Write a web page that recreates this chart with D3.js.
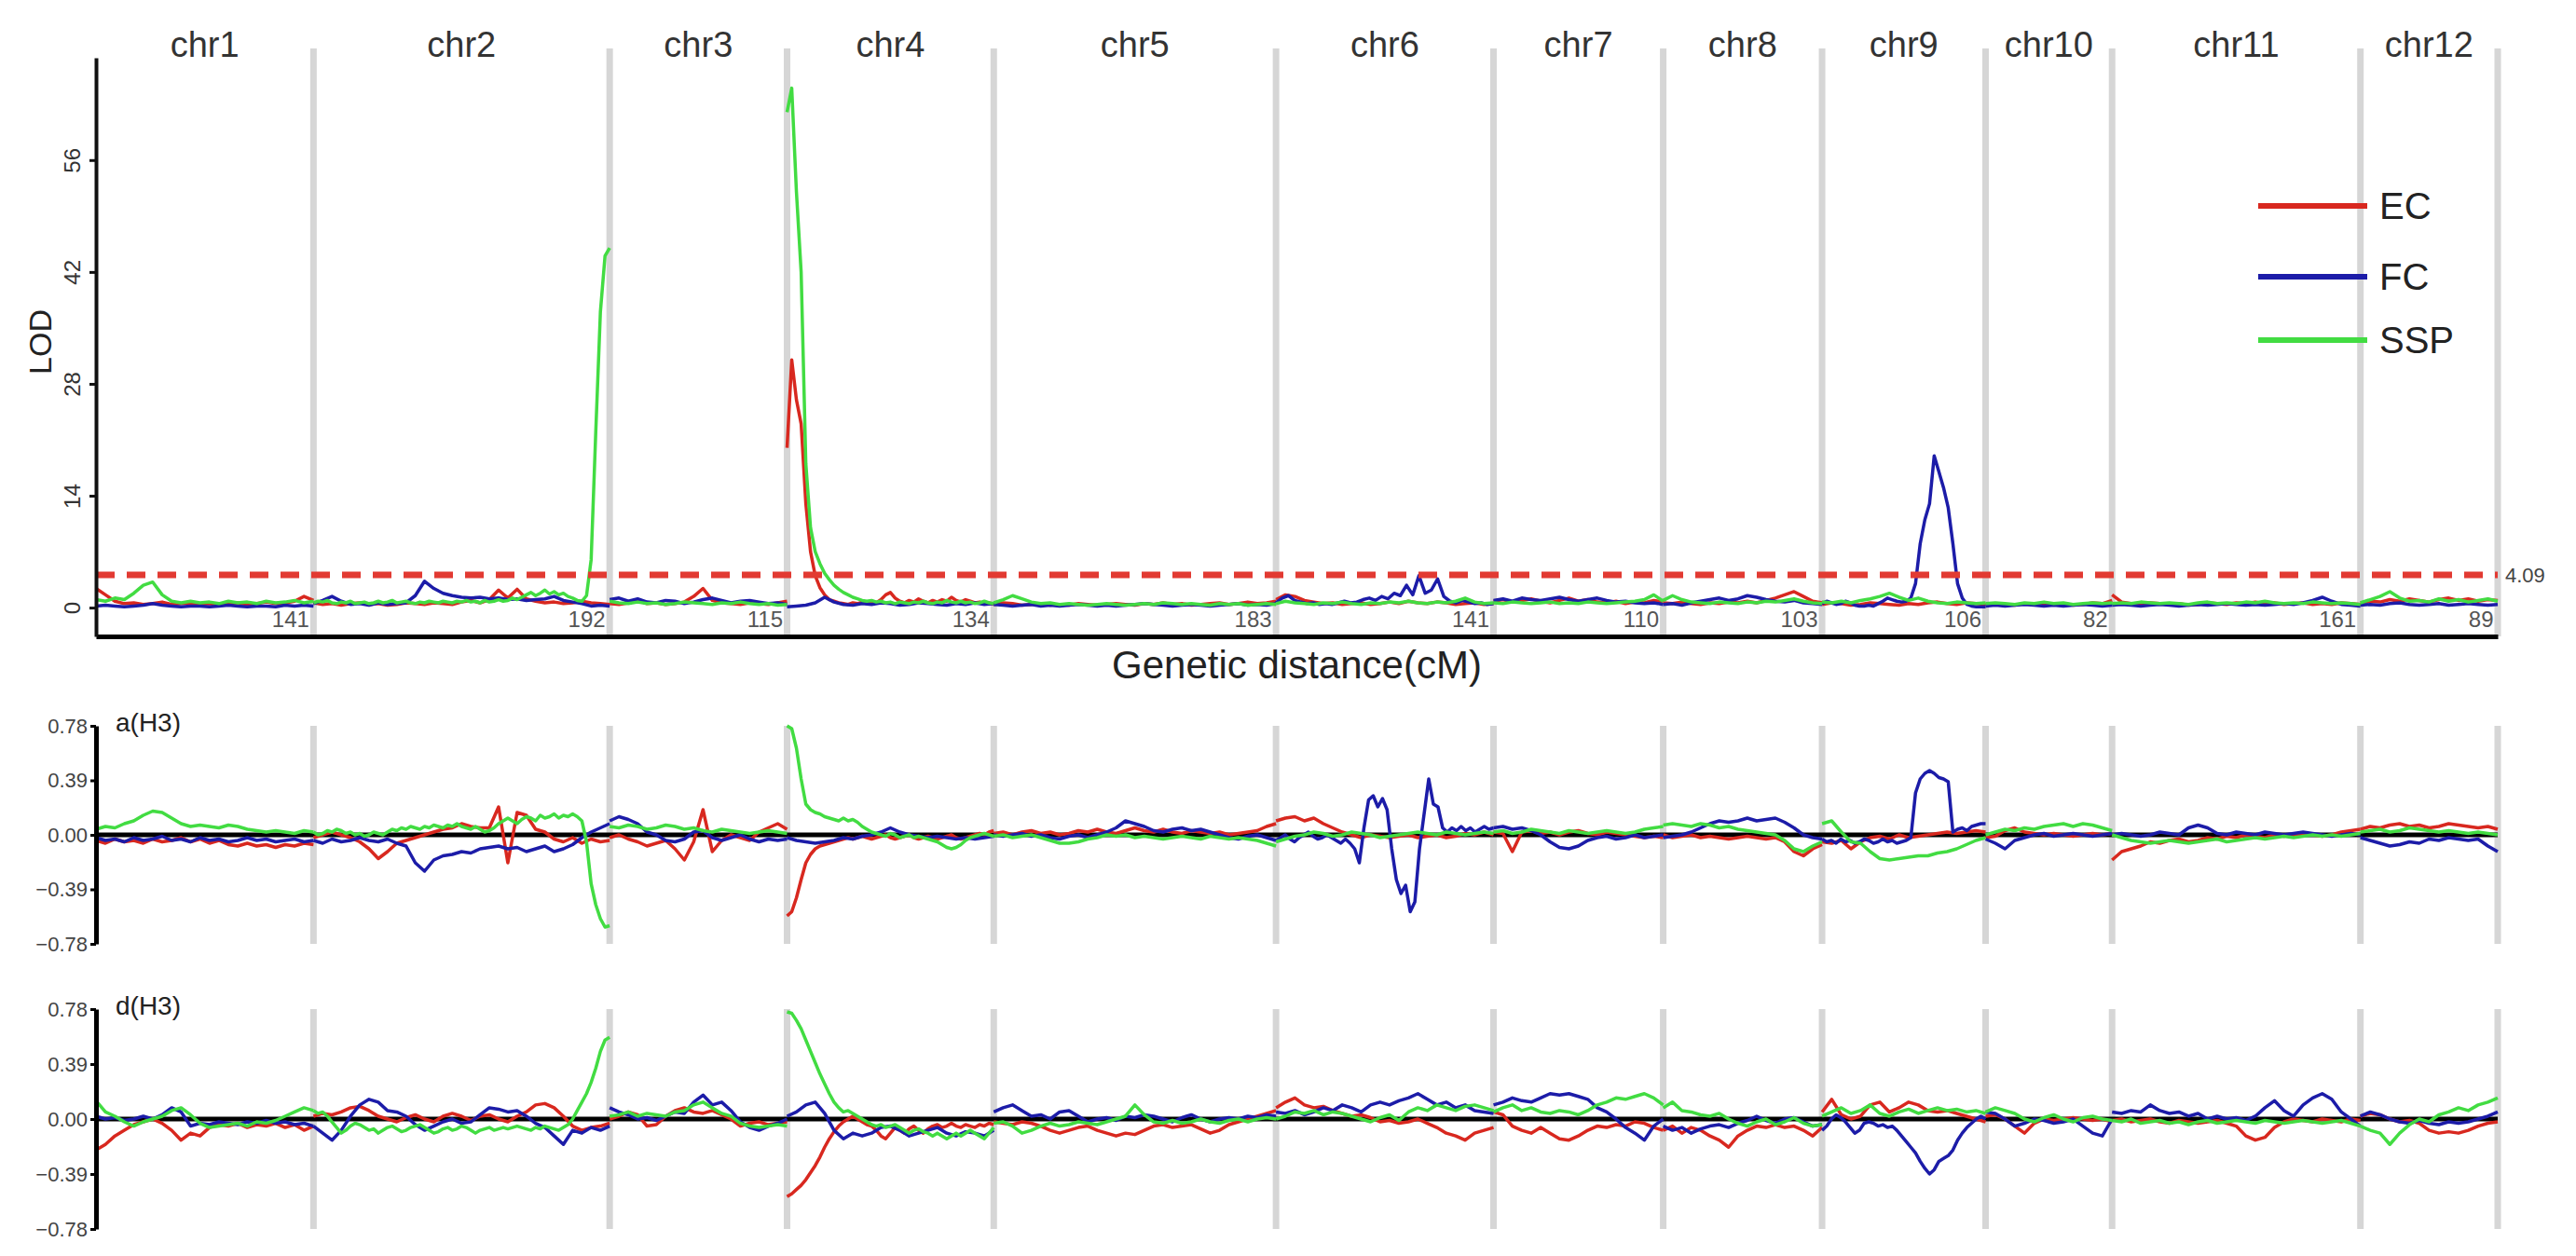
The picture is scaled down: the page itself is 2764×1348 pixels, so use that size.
<!DOCTYPE html>
<html>
<head>
<meta charset="utf-8">
<script src="https://cdn.jsdelivr.net/npm/d3@7"></script>
<style>
  body { margin: 0; background: #fff; }
  svg { display: block; font-family: "Liberation Sans", Arial, sans-serif; }
</style>
</head>
<body>
<div id="chart"></div>
<script>
// chromosome names and genetic lengths (cM)
const chromosomes = ["chr1", "chr2", "chr3", "chr4", "chr5", "chr6", "chr7", "chr8", "chr9", "chr10", "chr11", "chr12"];
const chrLengths = [141, 192, 115, 134, 183, 141, 110, 103, 106, 82, 161, 89];

const seriesNames = ["EC", "FC", "SSP"];
const seriesColors = ["#d8281f", "#1c1ca8", "#42dc42"];

const lodTicks = [0, 14, 28, 42, 56];
const effectTicks = [-0.78, -0.39, 0, 0.39, 0.78];
const lodThreshold = 4.09;

// values are evenly spaced along each chromosome (first value at 0 cM, last at its end)
const lodEC = [
  [2.4,1.6,0.8,0.5,0.6,0.4,0.5,0.7,0.4,0.5,0.6,0.4,0.5,0.3,0.5,0.6,0.4,0.5,0.7,0.5,0.6,0.8,1.4,0.9],
  [0.6,0.4,0.5,0.3,0.5,0.6,0.4,0.5,0.3,0.4,0.6,0.5,0.4,0.6,0.5,0.4,0.7,0.9,0.6,1.0,2.2,1.2,2.3,1.1,0.8,0.6,0.7,0.5,0.6,0.8,0.6,0.5,0.4],
  [0.5,0.4,0.6,0.9,0.5,0.6,0.4,0.5,0.7,1.4,2.4,0.9,0.6,0.5,0.4,0.6,0.5,0.4,0.6,0.8],
  [20,31,26,23,13,7,4,2.5,1.6,1.0,0.8,0.6,0.5,0.4,0.6,0.5,0.7,0.5,0.8,0.6,1.0,1.6,1.9,1.2,0.8,0.6,0.9,0.7,1.1,0.8,0.6,0.9,0.7,1.0,0.8,1.3,0.9,0.7,1.0,0.8,0.6,0.7,0.5,0.6,0.4],
  [0.4,0.6,0.5,0.3,0.4,0.5,0.3,0.4,0.3,0.5,0.4,0.3,0.4,0.5,0.4,0.3,0.5,0.4,0.6,0.4,0.5,0.3,0.4,0.5,0.6,0.4,0.5,0.7,0.5,0.6,0.8],
  [1.0,1.6,1.4,0.9,0.7,0.5,0.6,0.4,0.5,0.6,0.4,0.5,0.7,0.5,0.8,0.6,0.5,0.7,0.6,0.4,0.5,0.6,0.4,0.5],
  [0.8,1.0,0.7,0.9,1.1,0.8,0.6,0.9,1.2,0.8,1.0,0.7,0.6,0.8,0.5,0.7,0.6,0.9,0.7],
  [0.6,0.5,0.7,0.5,0.4,0.6,0.5,0.7,0.6,0.8,0.6,0.9,1.2,1.6,2.0,1.4,0.8,0.6],
  [0.4,0.6,0.5,0.3,0.4,0.6,0.5,0.4,0.3,0.5,0.4,0.6,0.7,0.5,0.4,0.6,0.5,0.4],
  [0.3,0.5,0.4,0.3,0.5,0.4,0.3,0.4,0.5,0.3,0.4,0.6,0.5,0.9],
  [1.6,0.7,0.5,0.4,0.6,0.5,0.4,0.5,0.3,0.4,0.6,0.5,0.4,0.6,0.5,0.7,0.5,0.6,0.4,0.5,0.6,0.4,0.5,0.4,0.6,0.5,0.4],
  [0.6,0.8,0.7,1.0,0.8,1.1,0.9,0.7,1.0,1.2,0.9,1.1,0.8,1.0,0.9]
];
const lodFC = [
  [0.2,0.3,0.2,0.1,0.2,0.3,0.5,0.3,0.2,0.1,0.2,0.2,0.1,0.2,0.3,0.2,0.1,0.2,0.2,0.1,0.3,0.2,0.3,0.2],
  [0.5,0.9,1.4,0.8,0.4,0.5,0.3,0.6,0.4,0.5,0.6,1.5,3.3,2.4,1.8,1.5,1.3,1.2,1.3,1.1,1.2,1.0,1.1,0.9,1.0,1.1,1.4,0.9,0.7,0.5,0.2,0.3,0.2],
  [1.0,1.2,0.8,1.1,0.7,0.6,0.9,0.8,0.5,0.7,1.0,1.2,0.9,0.6,0.8,0.9,0.7,0.5,0.6,0.4],
  [0.1,0.2,0.3,0.6,1.3,0.7,0.4,0.3,0.5,0.4,0.6,0.5,0.3,0.4,0.6,0.5,0.4,0.3,0.5,0.4,0.6,0.4,0.5],
  [0.4,0.3,0.2,0.3,0.4,0.2,0.3,0.2,0.3,0.4,0.3,0.2,0.3,0.2,0.3,0.4,0.5,0.4,0.3,0.2,0.3,0.4,0.3,0.2,0.3,0.4,0.5,0.3,0.4,0.3,0.5],
  [0.6,1.2,1.5,0.9,0.7,0.5,0.6,0.4,0.5,0.4,0.6,0.8,0.6,0.7,1.0,1.2,0.9,1.4,1.1,1.8,1.5,2.8,1.6,4.0,1.8,2.2,3.6,1.4,0.8,0.6,0.9,0.7,0.5,0.6,0.4,0.5],
  [0.9,1.1,0.8,1.2,1.0,0.9,1.1,1.3,1.0,0.8,1.0,1.2,0.9,0.7,0.8,0.6,0.5,0.6,0.4],
  [0.4,0.5,0.3,0.6,0.8,1.0,1.2,0.9,1.1,1.5,1.3,1.0,0.8,0.7,0.9,0.6,0.5,0.4],
  [0.5,0.8,0.6,0.4,0.5,0.8,0.6,0.3,0.2,0.2,0.3,0.2,0.5,0.8,1.2,1.0,0.8,0.7,0.8,1.2,3.0,8.0,11.0,13.0,19.0,17.0,15.0,12.5,8.0,3.0,1.2,0.4,0.2,0.1,0.1,0.1],
  [0.2,0.3,0.2,0.3,0.4,0.3,0.2,0.3,0.2,0.3,0.4,0.3,0.2,0.3],
  [0.3,0.4,0.3,0.2,0.3,0.4,0.3,0.2,0.3,0.4,0.3,0.4,0.5,0.4,0.3,0.4,0.3,0.4,0.5,0.4,0.6,0.9,1.3,0.8,0.4,0.3,0.2],
  [0.3,0.4,0.3,0.5,0.6,0.4,0.3,0.4,0.5,0.3,0.4,0.5,0.4,0.3,0.4]
];
const lodSSP = [
  [1.0,0.8,1.2,1.0,1.8,2.8,3.2,1.6,0.8,0.6,0.8,0.6,0.7,0.5,0.8,0.6,0.7,0.5,0.8,0.6,0.7,0.9,0.6,0.8],
  [0.6,0.8,0.7,0.9,0.6,0.5,0.7,0.6,0.8,0.5,0.6,0.7,0.5,0.6,0.8,0.6,0.7,0.9,0.6,0.7,0.8,0.6,0.5,0.7,0.6,0.8,0.7,0.6,0.8,0.7,0.6,0.8,0.7,0.9,0.7,0.8,0.6,0.9,0.7,0.8,1.0,0.8,0.9,1.2,1.0,1.3,1.6,1.9,1.5,1.8,2.2,1.7,2.0,1.6,1.8,1.4,1.2,0.9,0.8,1.5,6,22,37,44,45],
  [0.8,0.6,0.5,0.7,0.5,0.6,0.4,0.5,0.7,0.6,0.5,0.4,0.6,0.5,0.7,0.5,0.4,0.5,0.3,0.4],
  [62,65,52,42,18,10,7,5.5,4.3,3.5,2.8,2.3,1.9,1.6,1.3,1.1,0.9,0.8,0.9,0.7,0.8,0.6,0.7,0.5,0.7,0.6,0.5,0.7,0.6,0.8,0.6,0.5,0.7,0.6,0.9,0.7,0.6,0.8,0.6,0.7,0.5,0.6,0.8,0.6,0.5],
  [0.6,1.0,1.5,1.1,0.7,0.5,0.6,0.4,0.5,0.4,0.3,0.4,0.5,0.4,0.3,0.4,0.5,0.4,0.6,0.5,0.4,0.5,0.4,0.3,0.5,0.4,0.5,0.3,0.4,0.5,0.4],
  [0.5,0.8,0.6,0.5,0.4,0.6,0.5,0.7,0.5,0.4,0.6,0.5,0.7,0.6,0.8,0.6,0.5,0.7,0.6,0.8,1.2,0.7,0.5,0.6],
  [0.6,0.5,0.7,0.6,0.5,0.6,0.7,0.5,0.6,0.5,0.7,0.6,0.5,0.6,0.7,0.8,1.0,1.6,0.8],
  [0.9,1.5,1.0,0.7,0.6,0.5,0.7,0.6,0.5,0.7,0.6,0.8,0.7,0.9,1.1,0.8,0.6,0.5],
  [0.7,0.6,0.8,0.6,0.9,1.1,1.4,1.8,1.3,0.9,1.2,0.8,0.6,0.5,0.7,0.6,0.5,0.6],
  [0.5,0.6,0.5,0.4,0.6,0.5,0.7,0.5,0.6,0.4,0.5,0.6,0.5,0.6],
  [0.5,0.6,0.5,0.7,0.6,0.5,0.6,0.5,0.4,0.6,0.7,0.5,0.6,0.5,0.7,0.6,0.8,0.6,0.5,0.6,0.5,0.7,0.6,0.5,0.6,0.5,0.4],
  [0.6,1.0,1.4,2.0,1.2,0.8,0.9,0.7,1.1,0.8,1.0,0.7,0.9,1.1,0.8]
];

// additive effect a(H3)
const aEC = [
  [-0.04,-0.06,-0.03,-0.05,-0.04,-0.06,-0.03,-0.05,-0.04,-0.02,-0.05,-0.03,-0.06,-0.04,-0.07,-0.08,-0.06,-0.08,-0.07,-0.09,-0.07,-0.08,-0.06,-0.07],
  [-0.02,0.0,0.02,0.0,-0.02,-0.05,-0.1,-0.17,-0.12,-0.06,-0.04,-0.02,0.0,0.02,0.04,0.05,0.08,0.06,0.05,0.05,0.2,-0.2,0.16,0.14,0.04,0.02,-0.03,-0.05,-0.02,-0.06,-0.03,-0.05,-0.04],
  [-0.02,0.0,-0.03,-0.05,-0.08,-0.06,-0.04,-0.1,-0.18,-0.05,0.18,-0.12,-0.04,0.0,-0.02,-0.04,0.02,0.05,0.08,0.04],
  [-0.58,-0.55,-0.45,-0.32,-0.2,-0.14,-0.1,-0.08,-0.07,-0.06,-0.05,-0.04,-0.03,-0.02,-0.03,-0.02,-0.01,-0.02,-0.03,-0.02,-0.01,0.0,-0.02,-0.03,-0.02,-0.01,0.0,-0.02,-0.03,-0.02,-0.01,-0.02,-0.03,-0.02,-0.01,0.0,-0.02,-0.03,-0.02,-0.01,0.0,0.01,0.0,0.02,0.03],
  [0.01,0.02,0.0,0.02,0.03,0.01,0.02,0.0,0.01,0.03,0.02,0.04,0.02,0.01,0.03,0.05,0.03,0.02,0.04,0.02,0.01,0.03,0.02,0.01,0.02,0.0,0.01,0.02,0.03,0.06,0.08],
  [0.1,0.12,0.13,0.1,0.12,0.08,0.05,0.02,0.0,-0.02,0.0,-0.01,-0.02,-0.01,0.0,-0.02,-0.01,0.0,-0.02,-0.01,0.01,0.0,0.02,0.0],
  [0.02,0.01,-0.12,0.02,0.03,0.01,0.02,0.0,0.02,0.03,0.01,0.0,0.02,0.01,0.0,-0.01,-0.02,-0.01,-0.02],
  [0.0,-0.02,-0.01,0.0,-0.02,-0.01,-0.02,-0.03,-0.02,-0.01,-0.02,-0.03,-0.02,-0.05,-0.12,-0.15,-0.1,-0.07],
  [-0.05,-0.06,-0.04,-0.1,-0.05,-0.02,-0.01,-0.03,0.0,-0.02,-0.01,0.0,0.01,0.02,0.01,0.02,0.03,0.02],
  [-0.02,-0.01,0.03,0.05,0.02,0.01,0.0,0.01,0.0,-0.01,0.0,0.01,0.0,0.01],
  [-0.18,-0.12,-0.1,-0.08,-0.05,-0.06,-0.04,-0.03,-0.05,-0.04,-0.02,-0.03,-0.01,-0.02,0.0,-0.01,-0.02,0.0,-0.01,0.0,0.01,0.0,-0.01,0.0,0.02,0.03,0.04],
  [0.04,0.06,0.05,0.07,0.08,0.06,0.07,0.05,0.06,0.08,0.07,0.06,0.05,0.06,0.04]
];
const aFC = [
  [-0.02,-0.04,-0.03,-0.05,-0.02,-0.04,-0.03,-0.01,-0.04,-0.03,-0.05,-0.02,-0.04,-0.03,-0.05,-0.04,-0.02,-0.04,-0.03,-0.05,-0.04,-0.03,-0.05,-0.04],
  [-0.04,-0.06,-0.03,-0.05,-0.04,-0.02,-0.04,-0.05,-0.03,-0.06,-0.08,-0.2,-0.26,-0.18,-0.15,-0.14,-0.12,-0.13,-0.1,-0.09,-0.08,-0.1,-0.09,-0.12,-0.1,-0.08,-0.12,-0.1,-0.07,-0.02,0.02,0.05,0.08],
  [0.1,0.13,0.11,0.08,0.02,0.0,-0.04,-0.05,-0.03,0.02,0.03,-0.02,-0.04,-0.02,0.0,-0.03,-0.05,-0.03,-0.04,-0.03],
  [-0.02,-0.04,-0.05,-0.06,-0.05,-0.04,-0.02,-0.03,-0.01,0.0,0.02,0.05,0.02,0.0,-0.01,-0.02,-0.01,-0.02,-0.03,-0.02,-0.03,-0.02,-0.01],
  [0.0,-0.01,0.0,0.01,-0.01,0.0,-0.02,-0.03,-0.01,0.0,-0.02,0.0,0.02,0.05,0.1,0.08,0.06,0.03,0.02,0.04,0.05,0.03,0.04,0.02,0.0,-0.02,-0.03,-0.01,0.0,-0.02,-0.04],
  [-0.04,-0.02,0.0,-0.03,-0.05,-0.02,0.0,0.02,-0.01,-0.03,-0.02,0.0,-0.02,-0.04,-0.06,-0.03,-0.06,-0.1,-0.2,0.05,0.25,0.28,0.2,0.26,0.18,-0.1,-0.32,-0.42,-0.36,-0.55,-0.48,-0.1,0.15,0.4,0.22,0.2,0.05,0.02,0.05,0.03,0.06,0.03,0.05,0.02,0.04,0.06,0.04,0.05],
  [0.05,0.06,0.04,0.05,0.03,0.0,-0.05,-0.09,-0.1,-0.08,-0.04,-0.02,-0.01,-0.03,-0.02,0.0,-0.02,-0.01,0.0],
  [-0.02,-0.01,0.0,0.02,0.05,0.08,0.1,0.09,0.1,0.12,0.1,0.11,0.12,0.09,0.05,0.0,-0.02,-0.03],
  [-0.03,-0.05,-0.04,-0.06,-0.03,-0.05,-0.04,-0.06,-0.05,-0.03,-0.04,-0.06,-0.05,-0.03,-0.05,-0.04,-0.06,-0.05,-0.04,-0.02,0.3,0.4,0.44,0.46,0.44,0.41,0.4,0.38,0.02,0.04,0.05,0.03,0.06,0.07,0.08,0.08],
  [-0.03,-0.06,-0.1,-0.04,-0.02,0.0,0.01,-0.01,0.0,0.01,0.0,-0.01,0.0,0.01],
  [0.0,0.01,0.0,-0.01,0.0,0.02,0.01,0.0,0.05,0.07,0.05,0.01,0.0,0.02,0.01,0.0,0.02,0.01,0.0,0.01,0.02,0.01,0.0,-0.01,0.0,0.01,0.0],
  [-0.02,-0.04,-0.06,-0.08,-0.07,-0.05,-0.06,-0.03,-0.04,-0.02,-0.03,-0.04,-0.03,-0.08,-0.12]
];
const aSSP = [
  [0.04,0.06,0.05,0.08,0.1,0.14,0.17,0.16,0.12,0.08,0.06,0.07,0.06,0.05,0.07,0.06,0.04,0.03,0.02,0.03,0.02,0.01,0.03,0.02],
  [0.02,0.0,0.01,0.03,0.02,0.04,0.03,0.01,0.02,0.0,0.01,-0.01,0.0,0.02,0.01,0.0,0.02,0.04,0.03,0.05,0.04,0.06,0.05,0.04,0.06,0.05,0.07,0.06,0.05,0.07,0.06,0.08,0.06,0.05,0.04,0.06,0.04,0.02,0.03,0.05,0.08,0.1,0.12,0.1,0.08,0.11,0.13,0.12,0.1,0.14,0.12,0.13,0.15,0.12,0.14,0.13,0.15,0.13,0.1,-0.05,-0.35,-0.5,-0.6,-0.66,-0.65],
  [0.06,0.05,0.07,0.06,0.04,0.05,0.07,0.06,0.04,0.05,0.03,0.02,0.04,0.03,0.02,0.01,0.02,0.03,0.02,0.01],
  [0.78,0.76,0.62,0.4,0.22,0.18,0.16,0.15,0.13,0.12,0.11,0.1,0.12,0.1,0.11,0.09,0.06,0.04,0.02,0.01,0.0,-0.01,0.01,0.0,-0.02,-0.01,0.0,-0.02,-0.01,-0.02,-0.03,-0.04,-0.05,-0.07,-0.09,-0.1,-0.09,-0.07,-0.04,-0.02,-0.01,0.0,0.01,0.0,-0.01],
  [-0.01,0.0,-0.02,-0.01,0.0,-0.02,-0.04,-0.06,-0.06,-0.05,-0.03,-0.02,0.0,-0.01,0.0,-0.02,-0.01,-0.02,-0.03,-0.02,-0.01,-0.02,-0.03,-0.01,-0.02,-0.03,-0.02,-0.03,-0.04,-0.06,-0.08],
  [-0.05,-0.03,-0.01,0.0,0.02,0.01,-0.01,0.0,0.02,0.01,0.0,-0.02,-0.01,0.0,0.01,0.02,0.01,0.0,0.02,0.01,0.0,0.01,0.02,0.01],
  [0.02,0.03,0.01,0.02,0.04,0.03,0.02,0.01,0.03,0.02,0.01,0.02,0.03,0.02,0.01,0.02,0.04,0.05,0.06],
  [0.07,0.08,0.07,0.06,0.08,0.07,0.05,0.06,0.04,0.03,0.02,0.01,0.0,-0.04,-0.1,-0.12,-0.08,-0.05],
  [0.08,0.1,0.02,-0.05,-0.06,-0.12,-0.17,-0.18,-0.17,-0.16,-0.15,-0.15,-0.13,-0.12,-0.1,-0.07,-0.04,-0.02],
  [0.0,0.02,0.04,0.03,0.05,0.04,0.06,0.07,0.08,0.06,0.08,0.07,0.05,0.03],
  [0.0,-0.02,-0.04,-0.05,-0.06,-0.05,-0.04,-0.05,-0.06,-0.05,-0.04,-0.03,-0.05,-0.04,-0.03,-0.02,-0.03,-0.02,-0.01,-0.02,-0.01,0.0,-0.01,0.0,-0.01,0.0,0.01],
  [0.02,0.03,0.04,0.02,0.03,0.05,0.04,0.03,0.02,0.03,0.02,0.01,0.02,0.01,0.0]
];

// dominance effect d(H3)
const dEC = [
  [-0.22,-0.18,-0.12,-0.08,-0.04,-0.02,0.0,-0.03,-0.08,-0.15,-0.1,-0.12,-0.06,-0.04,-0.05,-0.03,-0.06,-0.04,-0.05,-0.03,-0.06,-0.04,-0.08,-0.05],
  [0.02,0.04,0.03,0.05,0.08,0.09,0.06,0.02,0.0,-0.02,0.01,0.03,0.0,-0.02,0.02,0.04,0.02,-0.01,0.02,0.03,0.0,-0.02,0.02,0.05,0.1,0.11,0.08,0.02,-0.05,-0.08,-0.06,-0.05,-0.03],
  [0.0,0.02,0.05,0.03,-0.05,-0.04,0.02,0.06,0.08,0.05,0.04,0.06,0.03,0.0,-0.05,-0.03,-0.02,-0.04,-0.03,-0.02],
  [-0.55,-0.53,-0.5,-0.47,-0.43,-0.38,-0.33,-0.27,-0.2,-0.14,-0.09,-0.05,-0.02,0.0,0.02,0.0,-0.02,-0.04,-0.05,-0.08,-0.12,-0.14,-0.1,-0.06,-0.08,-0.1,-0.07,-0.05,-0.08,-0.1,-0.07,-0.05,-0.04,-0.06,-0.05,-0.03,-0.05,-0.06,-0.04,-0.05,-0.06,-0.04,-0.05,-0.03,-0.04],
  [-0.02,-0.03,-0.04,-0.02,-0.03,-0.05,-0.08,-0.1,-0.08,-0.06,-0.05,-0.08,-0.1,-0.12,-0.1,-0.11,-0.08,-0.05,-0.04,-0.06,-0.05,-0.04,-0.07,-0.1,-0.08,-0.04,-0.02,0.0,0.02,0.04,0.06],
  [0.08,0.12,0.15,0.1,0.08,0.09,0.06,0.04,0.02,0.03,0.01,-0.02,-0.01,-0.03,-0.02,0.0,-0.03,-0.06,-0.1,-0.12,-0.15,-0.1,-0.08,-0.06],
  [0.05,0.03,-0.05,-0.08,-0.1,-0.06,-0.1,-0.14,-0.15,-0.12,-0.08,-0.05,-0.06,-0.04,-0.05,-0.02,-0.03,-0.06,-0.08],
  [-0.08,-0.05,-0.1,-0.06,-0.08,-0.12,-0.15,-0.2,-0.12,-0.08,-0.05,-0.06,-0.04,-0.06,-0.05,-0.08,-0.12,-0.06],
  [0.05,0.14,0.03,0.0,0.02,0.1,0.12,0.05,0.08,0.12,0.1,0.06,0.05,0.06,0.04,0.02,0.0,-0.02],
  [0.02,0.03,0.0,-0.05,-0.1,-0.03,0.0,-0.01,0.0,0.01,0.0,-0.01,0.0,-0.02],
  [-0.01,0.0,-0.02,-0.01,0.0,-0.02,-0.03,-0.01,-0.02,-0.03,-0.02,-0.01,-0.03,-0.05,-0.12,-0.15,-0.13,-0.06,-0.02,0.0,-0.01,-0.02,0.0,-0.01,-0.02,0.0,-0.01],
  [0.02,0.04,0.03,0.0,-0.02,-0.01,-0.03,-0.08,-0.1,-0.09,-0.1,-0.08,-0.05,-0.03,-0.02]
];
const dFC = [
  [0.02,0.0,0.01,-0.01,0.0,0.02,0.0,0.03,0.08,0.05,-0.05,-0.03,-0.04,-0.02,-0.03,-0.04,-0.02,-0.03,-0.01,-0.03,-0.02,-0.04,-0.03,-0.05],
  [-0.05,-0.1,-0.15,-0.08,0.02,0.1,0.14,0.12,0.06,0.05,0.02,-0.04,-0.08,-0.05,-0.02,0.0,-0.03,-0.02,0.03,0.08,0.07,0.05,0.06,0.02,-0.03,-0.06,-0.12,-0.18,-0.08,-0.1,-0.06,-0.08,-0.05],
  [0.08,0.05,0.03,0.0,0.01,-0.01,0.02,0.05,0.04,0.12,0.17,0.1,0.12,0.06,-0.02,-0.06,-0.08,-0.05,-0.03,0.0],
  [0.02,0.05,0.1,0.12,0.04,-0.08,-0.14,-0.1,-0.12,-0.1,-0.06,-0.05,-0.08,-0.12,-0.1,-0.08,-0.06,-0.1,-0.12,-0.09,-0.1,-0.12,-0.08],
  [0.05,0.08,0.1,0.06,0.02,0.03,0.0,0.05,0.06,0.02,-0.02,0.0,0.01,-0.01,0.02,0.01,0.03,0.02,0.0,-0.02,0.01,0.03,0.0,-0.02,0.0,0.01,0.0,0.02,0.01,0.03,0.02],
  [0.05,0.04,0.06,0.03,0.05,0.08,0.06,0.1,0.08,0.05,0.1,0.12,0.1,0.13,0.15,0.18,0.14,0.1,0.12,0.08,0.1,0.06,0.05,0.04],
  [0.1,0.12,0.15,0.13,0.12,0.15,0.18,0.17,0.18,0.16,0.14,0.08,0.05,0.0,-0.06,-0.1,-0.15,-0.05,0.0],
  [-0.05,-0.08,-0.06,-0.1,-0.07,-0.05,-0.04,-0.06,-0.03,-0.01,0.02,-0.01,-0.03,0.0,0.01,-0.02,-0.05,-0.04],
  [-0.08,-0.05,0.0,0.03,0.01,-0.02,-0.06,-0.1,-0.08,-0.03,-0.02,-0.03,-0.05,-0.04,-0.06,-0.05,-0.08,-0.12,-0.16,-0.2,-0.24,-0.3,-0.35,-0.39,-0.36,-0.3,-0.28,-0.26,-0.22,-0.15,-0.1,-0.06,-0.03,0.0,0.02,0.0],
  [0.05,0.04,0.0,-0.05,-0.03,0.0,-0.01,-0.03,-0.02,0.0,-0.05,-0.1,-0.12,0.0],
  [0.05,0.04,0.06,0.05,0.1,0.06,0.04,0.05,0.02,0.04,0.0,0.02,0.0,0.01,-0.01,0.02,0.08,0.13,0.06,0.02,0.1,0.15,0.18,0.14,0.05,0.0,-0.05],
  [0.02,0.05,0.03,0.0,-0.02,-0.03,-0.01,-0.03,-0.04,-0.02,-0.03,-0.02,0.0,0.02,0.05]
];
const dSSP = [
  [0.13,0.05,0.02,-0.02,-0.05,-0.02,0.0,0.02,0.06,0.08,0.03,-0.03,-0.06,-0.05,-0.04,-0.03,-0.05,-0.02,-0.03,-0.01,0.02,0.05,0.08,0.06],
  [0.06,0.04,0.05,0.02,-0.02,-0.06,-0.1,-0.08,-0.05,-0.03,-0.04,-0.06,-0.08,-0.07,-0.1,-0.08,-0.06,-0.05,-0.07,-0.09,-0.08,-0.06,-0.05,-0.04,-0.06,-0.08,-0.1,-0.09,-0.07,-0.06,-0.08,-0.07,-0.05,-0.06,-0.08,-0.1,-0.08,-0.07,-0.06,-0.08,-0.07,-0.06,-0.07,-0.06,-0.05,-0.06,-0.07,-0.08,-0.06,-0.07,-0.05,-0.06,-0.07,-0.08,-0.06,-0.04,0.0,0.06,0.12,0.18,0.26,0.36,0.48,0.56,0.58],
  [0.02,0.03,0.05,0.02,0.04,0.03,0.02,0.05,0.06,0.1,0.12,0.08,0.04,0.02,-0.03,-0.05,-0.06,-0.05,-0.04,-0.05],
  [0.76,0.75,0.7,0.64,0.56,0.48,0.4,0.32,0.25,0.18,0.12,0.08,0.05,0.06,0.04,0.02,0.0,-0.02,-0.04,-0.05,-0.04,-0.06,-0.05,-0.04,-0.06,-0.08,-0.1,-0.08,-0.07,-0.09,-0.1,-0.12,-0.1,-0.12,-0.14,-0.12,-0.1,-0.12,-0.1,-0.08,-0.1,-0.12,-0.14,-0.1,-0.06],
  [-0.03,-0.02,-0.05,-0.1,-0.08,-0.05,-0.03,-0.05,-0.04,-0.02,-0.03,-0.04,-0.02,0.0,0.02,0.1,0.03,-0.02,-0.03,-0.01,-0.03,-0.02,0.0,-0.02,-0.03,-0.01,0.0,-0.02,0.0,0.01,0.0],
  [0.0,0.02,0.05,0.04,0.06,0.03,0.05,0.04,0.02,0.0,-0.02,0.01,0.03,-0.01,0.05,0.08,0.06,0.1,0.08,0.06,0.09,0.1,0.08,0.06],
  [0.05,0.08,0.1,0.06,0.08,0.05,0.04,0.06,0.05,0.03,0.06,0.1,0.12,0.15,0.14,0.16,0.18,0.15,0.1],
  [0.08,0.12,0.06,0.05,0.03,0.02,0.04,0.0,-0.03,-0.05,-0.02,0.0,-0.04,-0.02,0.01,-0.03,-0.05,-0.04],
  [0.02,0.05,0.08,0.04,0.06,0.1,0.04,0.02,0.05,0.07,0.04,0.06,0.08,0.06,0.07,0.05,0.06,0.04],
  [0.05,0.08,0.06,0.04,0.0,-0.02,0.01,0.03,0.0,-0.02,0.01,0.02,0.0,-0.01],
  [-0.01,-0.02,0.0,-0.03,-0.02,-0.01,-0.03,-0.02,-0.04,-0.02,-0.01,-0.03,-0.02,-0.01,-0.02,-0.03,-0.01,-0.02,-0.03,-0.02,-0.01,-0.02,-0.03,-0.02,-0.01,-0.03,-0.05],
  [-0.05,-0.08,-0.1,-0.18,-0.1,-0.04,0.0,-0.02,0.03,0.05,0.08,0.06,0.1,0.12,0.15]
];

/* ---------- layout ---------- */
const width = 2764;
const height = 1348;
const svg = d3.select("#chart")
  .append("svg")
  .attr("width", width)
  .attr("height", height);

svg.append("rect").attr("width", width).attr("height", height).attr("fill", "#fff");

const chrEnds = d3.cumsum(chrLengths);
const chrStarts = chrLengths.map((d, i) => chrEnds[i] - d);
const totalCM = d3.sum(chrLengths);

const x = d3.scaleLinear().domain([0, totalCM]).range([103, 2680]);

//three stacked panels sharing the x scale
const panels = [
  { key: "lod", y: d3.scaleLinear().domain([-3.6, 68.8]).range([683, 62]), sepTop: 52, sepBottom: 683,
    data: [lodEC, lodFC, lodSSP] },
  { key: "a", y: d3.scaleLinear().domain([-0.78, 0.78]).range([1013, 779]), sepTop: 779, sepBottom: 1013,
    data: [aEC, aFC, aSSP], label: "a(H3)" },
  { key: "d", y: d3.scaleLinear().domain([-0.78, 0.78]).range([1319, 1083]), sepTop: 1083, sepBottom: 1319,
    data: [dEC, dFC, dSSP], label: "d(H3)" }
];

//turn per-chromosome value lists into [cM, value] points
const toPoints = (vals, c) => vals.map((v, i) => [chrStarts[c] + (i * chrLengths[c]) / (vals.length - 1), v]);

panels.forEach((p) => {
  const g = svg.append("g").attr("class", "panel-" + p.key);

  //grey chromosome separators
  g.append("g")
    .selectAll("rect")
    .data(chrEnds)
    .enter()
    .append("rect")
      .attr("x", (d) => x(d) - 3.5)
      .attr("width", 7)
      .attr("y", p.sepTop)
      .attr("height", p.sepBottom - p.sepTop)
      .attr("fill", "#d6d6d6");

  if (p.key !== "lod") {
    //zero line
    g.append("line")
      .attr("x1", x(0)).attr("x2", x(totalCM))
      .attr("y1", p.y(0)).attr("y2", p.y(0))
      .attr("stroke", "#000").attr("stroke-width", 5);
  }

  const line = d3.line()
    .x((d) => x(d[0]))
    .y((d) => p.y(d[1]));

  p.data.forEach((series, s) => {
    g.append("g")
      .selectAll("path")
      .data(series.map(toPoints))
      .enter()
      .append("path")
        .attr("d", line)
        .attr("fill", "none")
        .attr("stroke", seriesColors[s])
        .attr("stroke-width", 3.5)
        .attr("stroke-linejoin", "round");
  });
});

/* ---------- LOD panel furniture ---------- */
const lodY = panels[0].y;

//threshold
svg.append("line")
  .attr("x1", x(0)).attr("x2", x(totalCM))
  .attr("y1", lodY(lodThreshold)).attr("y2", lodY(lodThreshold))
  .attr("stroke", "#e23a32")
  .attr("stroke-width", 7)
  .attr("stroke-dasharray", "20,13");
svg.append("text")
  .attr("x", x(totalCM) + 8)
  .attr("y", lodY(lodThreshold))
  .attr("dy", "0.35em")
  .attr("font-size", 22)
  .attr("fill", "#444")
  .text(lodThreshold.toFixed(2));

//x baseline of the LOD panel
const xAxis = svg.append("g")
  .attr("transform", `translate(0, 683)`)
  .call(d3.axisBottom(x).tickValues([]).tickSizeOuter(0));
xAxis.select(".domain").attr("stroke", "#000").attr("stroke-width", 5);

//chromosome lengths printed at each chromosome end
const lenAxis = svg.append("g")
  .attr("transform", `translate(0, 683)`)
  .call(d3.axisTop(x).tickValues(chrEnds).tickFormat((d, i) => chrLengths[i]).tickSize(0).tickPadding(10));
lenAxis.select(".domain").remove();
lenAxis.selectAll("text")
  .attr("text-anchor", "end")
  .attr("dx", -5)
  .attr("font-size", 24)
  .attr("font-family", "Liberation Sans Narrow, Liberation Sans, Arial, sans-serif")
  .attr("fill", "#555");

//LOD y-axis
const lodAxis = svg.append("g")
  .attr("transform", `translate(103, 0)`)
  .call(d3.axisLeft(lodY).tickValues(lodTicks).tickSize(7).tickSizeOuter(0));
lodAxis.select(".domain").attr("stroke", "#111").attr("stroke-width", 4);
lodAxis.selectAll(".tick line").attr("stroke", "#111").attr("stroke-width", 3);
lodAxis.selectAll(".tick text")
  .attr("x", 0)
  .attr("dy", 0)
  .attr("transform", "translate(-17,0) rotate(-90)")
  .attr("text-anchor", "middle")
  .attr("font-size", 24)
  .attr("fill", "#333");

svg.append("text")
  .attr("transform", `translate(55, 367) rotate(-90)`)
  .attr("text-anchor", "middle")
  .attr("font-size", 34)
  .attr("fill", "#222")
  .text("LOD");

//chromosome names
svg.append("g")
  .selectAll("text")
  .data(chromosomes)
  .enter()
  .append("text")
    .attr("x", (d, i) => (x(chrStarts[i]) + x(chrEnds[i])) / 2)
    .attr("y", 61)
    .attr("text-anchor", "middle")
    .attr("font-size", 38)
    .attr("fill", "#333")
    .text((d) => d);

svg.append("text")
  .attr("x", (x(0) + x(totalCM)) / 2)
  .attr("y", 728)
  .attr("text-anchor", "middle")
  .attr("font-size", 42)
  .attr("fill", "#222")
  .text("Genetic distance(cM)");

//legend
const legend = svg.append("g");
const legendY = [221, 297, 365];
seriesNames.forEach((name, i) => {
  legend.append("line")
    .attr("x1", 2423).attr("x2", 2540)
    .attr("y1", legendY[i]).attr("y2", legendY[i])
    .attr("stroke", seriesColors[i])
    .attr("stroke-width", 6);
  legend.append("text")
    .attr("x", 2553)
    .attr("y", legendY[i])
    .attr("dy", "0.35em")
    .attr("font-size", 40)
    .attr("fill", "#222")
    .text(name);
});

/* ---------- effect panels axes ---------- */
panels.slice(1).forEach((p) => {
  const ax = svg.append("g")
    .attr("transform", `translate(103, 0)`)
    .call(d3.axisLeft(p.y).tickValues(effectTicks).tickSize(6).tickSizeOuter(0).tickFormat(d3.format(".2f")));
  ax.select(".domain").attr("stroke", "#000").attr("stroke-width", 5);
  ax.selectAll(".tick line").attr("stroke", "#000").attr("stroke-width", 3);
  ax.selectAll(".tick text").attr("font-size", 22).attr("fill", "#444");

  svg.append("text")
    .attr("x", 124)
    .attr("y", p.y(0.78) + 6)
    .attr("font-size", 28)
    .attr("fill", "#222")
    .text(p.label);
});
</script>
</body>
</html>
